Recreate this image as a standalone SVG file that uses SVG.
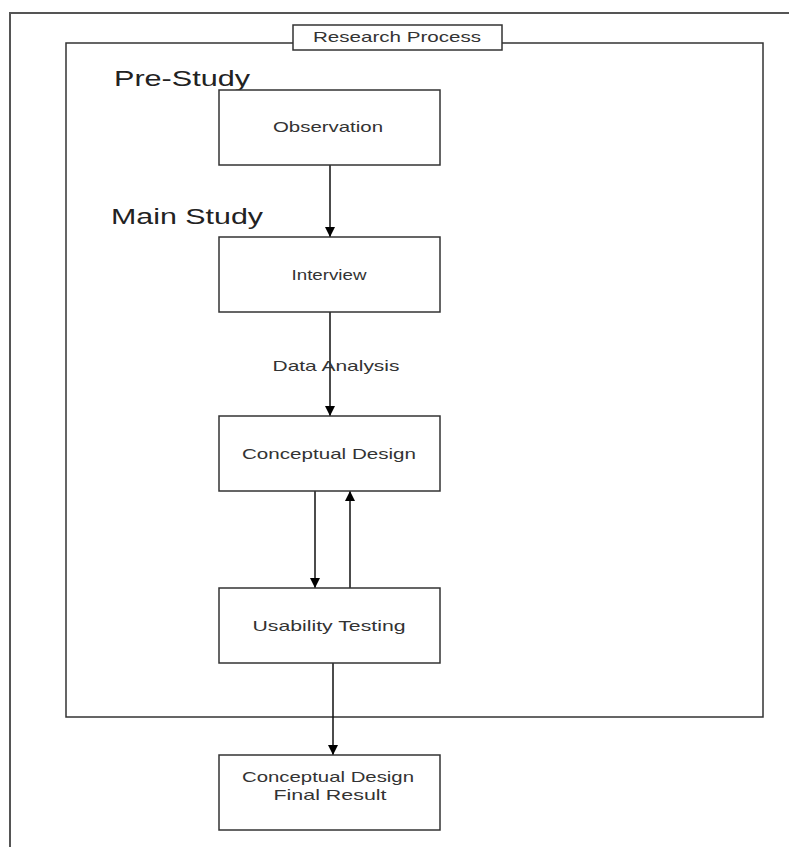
<svg xmlns="http://www.w3.org/2000/svg" width="789" height="847" viewBox="0 0 789 847">
<defs>
<marker id="ah" viewBox="0 0 10 10" refX="10" refY="5" markerWidth="10" markerHeight="10" markerUnits="userSpaceOnUse" orient="auto">
<path d="M0,0 L10,5 L0,10 z" fill="#000"/>
</marker>
</defs>
<style>
.box{fill:#fff;stroke:#333;stroke-width:1.5}
.t{font-family:"Liberation Sans",Arial,sans-serif;font-size:15px;fill:#333;text-anchor:middle}
.h{font-family:"Liberation Sans",Arial,sans-serif;font-size:22px;fill:#222}
.c{stroke:#111;stroke-width:1.5;fill:none;marker-end:url(#ah)}
</style>
<rect width="789" height="847" fill="#fff"/>
<g id="page">
<path d="M10,847 V13 H789" fill="none" stroke="#555" stroke-width="2"/>
</g>
<g id="frame">
<rect x="66" y="43" width="697" height="674" fill="none" stroke="#333" stroke-width="1.5"/>
<rect class="box" x="293" y="25" width="209" height="25"/>
<text class="t" x="397" y="42" textLength="168" lengthAdjust="spacingAndGlyphs">Research Process</text>
</g>
<g id="labels">
<text class="h" x="114" y="86" textLength="136" lengthAdjust="spacingAndGlyphs">Pre-Study</text>
<text class="h" x="111" y="224" textLength="152" lengthAdjust="spacingAndGlyphs">Main Study</text>
</g>
<g id="connectors">
<line class="c" x1="330" y1="165" x2="330" y2="237"/>
<line class="c" x1="330" y1="312" x2="330" y2="416"/>
<line class="c" x1="315" y1="491" x2="315" y2="588"/>
<line class="c" x1="350" y1="588" x2="350" y2="491"/>
<line class="c" x1="333" y1="663" x2="333" y2="755"/>
<text class="t" x="336" y="371" textLength="127" lengthAdjust="spacingAndGlyphs">Data Analysis</text>
</g>
<g id="observation">
<rect class="box" x="219" y="90" width="221" height="75"/>
<text class="t" x="328" y="132" textLength="110" lengthAdjust="spacingAndGlyphs">Observation</text>
</g>
<g id="interview">
<rect class="box" x="219" y="237" width="221" height="75"/>
<text class="t" x="329" y="280" textLength="75" lengthAdjust="spacingAndGlyphs">Interview</text>
</g>
<g id="conceptual-design">
<rect class="box" x="219" y="416" width="221" height="75"/>
<text class="t" x="329" y="459" textLength="174" lengthAdjust="spacingAndGlyphs">Conceptual Design</text>
</g>
<g id="usability-testing">
<rect class="box" x="219" y="588" width="221" height="75"/>
<text class="t" x="329" y="631" textLength="153" lengthAdjust="spacingAndGlyphs">Usability Testing</text>
</g>
<g id="final-result">
<rect class="box" x="219" y="755" width="221" height="75"/>
<text class="t" x="328" y="782" textLength="172" lengthAdjust="spacingAndGlyphs">Conceptual Design</text>
<text class="t" x="330" y="800" textLength="113" lengthAdjust="spacingAndGlyphs">Final Result</text>
</g>
</svg>
